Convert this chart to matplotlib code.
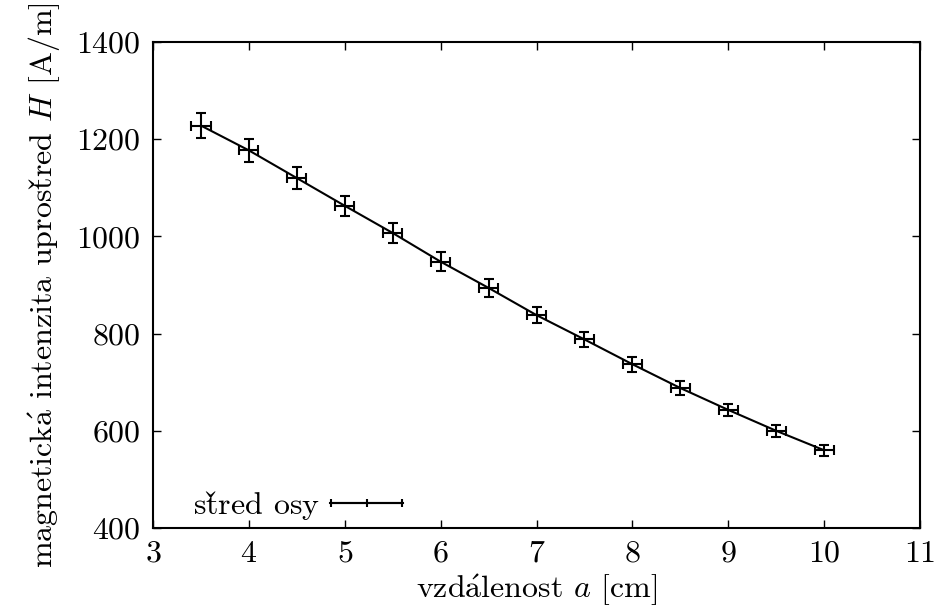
import matplotlib
matplotlib.use('Agg')
import numpy as np
from matplotlib import pyplot as plt
from matplotlib.legend_handler import HandlerErrorbar

distance = [3.5, 4.0, 4.5, 5.0, 5.5, 6.0, 6.5, 7.0, 7.5, 8.0, 8.5, 9.0, 9.5, 10.0]
intensity = [1228, 1177, 1120, 1063, 1007, 948, 894, 838, 788, 737, 688, 643, 600, 560]
intensity_err = [25, 24, 23, 21, 20, 19, 18, 17, 16, 15, 14, 13, 12, 11]
distance_err = [0.1] * len(distance)

x_ticks = [3, 4, 5, 6, 7, 8, 9, 10, 11]
y_ticks = [400, 600, 800, 1000, 1200, 1400]

plt.rcParams['font.family'] = ['cmr10', 'DejaVu Serif']
plt.rcParams['mathtext.fontset'] = 'cm'
plt.rcParams['axes.formatter.use_mathtext'] = True

# cmr10 has no Czech accents, so build them with mathtext
r_caron = '$\\check{\\mathrm{r}}$'
a_acute = '$\\acute{\\mathrm{a}}$'


def main():
    fs = 23
    fig = plt.figure(figsize=(9.43, 6.11), dpi=100)
    ax = fig.add_axes([153 / 943, 1 - 528 / 611, (920 - 153) / 943, (528 - 42) / 611])

    ax.plot(distance, intensity, color='black', linewidth=1.5)
    ax.errorbar(distance, intensity, xerr=distance_err, yerr=intensity_err,
                fmt='none', ecolor='black', elinewidth=1.5, capsize=3.3, capthick=1.5)

    # legend proxy (nan point, nothing drawn): line with x error bar, tick in the middle
    proxy = ax.errorbar([np.nan], [np.nan], xerr=[1], fmt='-|', color='black',
                        linewidth=1.5, elinewidth=1.5, markersize=6, markeredgewidth=1.5,
                        capsize=3, capthick=1.5, label='st' + r_caron + 'ed osy')

    ax.set_xlim(3, 11)
    ax.set_ylim(400, 1400)
    ax.set_xticks(x_ticks)
    ax.set_yticks(y_ticks)
    ax.tick_params(direction='in', length=6, width=1, top=True, right=True,
                   labelsize=fs, pad=9)
    for s in ax.spines.values():
        s.set_linewidth(1.5)

    ax.set_xlabel('vzd' + a_acute + 'lenost $a$ [cm]', fontsize=fs, labelpad=3)
    ax.set_ylabel('magnetick' + a_acute + ' intenzita uprost' + r_caron + 'ed $H$ [A/m]',
                  fontsize=fs, labelpad=10)

    ax.legend(handles=[proxy], loc='lower left', frameon=False, fontsize=fs,
              markerfirst=False, handlelength=2.3, handletextpad=0.3,
              borderaxespad=0.0, bbox_to_anchor=(0.036, -0.014),
              handler_map={type(proxy): HandlerErrorbar(xerr_size=1.1)})

    fig.savefig('out.png', dpi=100)


if __name__ == "__main__":
    main()
